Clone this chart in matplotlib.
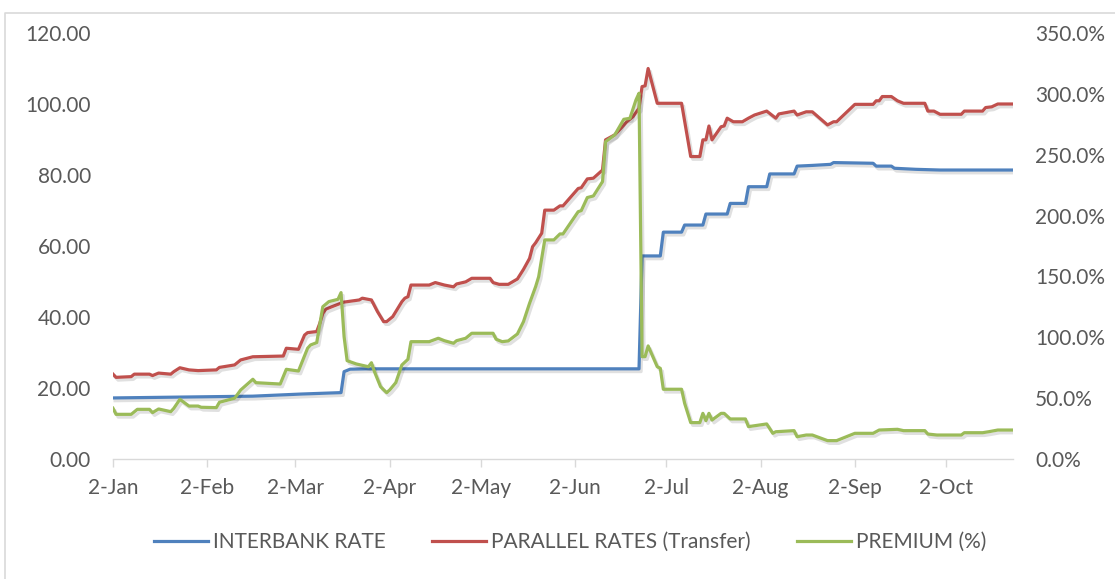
import matplotlib
import numpy as np

matplotlib.use("Agg")
import matplotlib.pyplot as plt  # noqa: E402
import matplotlib.dates as mdates  # noqa: E402
import matplotlib.patheffects as pe  # noqa: E402
from matplotlib.lines import Line2D  # noqa: E402
from matplotlib.ticker import FuncFormatter  # noqa: E402

START = np.datetime64("2016-01-02")
END_DAY = 296

# days counted from 2-Jan-2016
INTERBANK_DAY = [0, 46, 62, 75, 76, 78, 84, 173, 174, 180, 181, 187, 188, 194, 195, 202, 203,
                 208, 209, 215, 216, 224, 225, 230, 236, 237, 250, 251, 256, 257, 264, 272, 296]
INTERBANK_RATE = [17.2, 17.7, 18.3, 18.7, 24.6, 25.3, 25.4, 25.4, 57.2, 57.2, 63.9, 63.9, 65.9, 65.9, 69.0, 69.0, 72.0,
                  72.0, 76.7, 76.7, 80.3, 80.3, 82.5, 82.7, 83.0, 83.5, 83.3, 82.5, 82.5, 81.9, 81.6, 81.4, 81.4]

PARALLEL_DAY = [0, 1, 6, 7, 12, 13, 15, 19, 20, 22, 25, 28, 34, 35, 40, 42, 46, 56, 57, 61, 63, 64, 67, 68,
                69, 70, 72, 75, 76, 81, 82, 85, 87, 89, 90, 92, 95, 96, 97, 98, 104, 106, 109, 112, 113, 116,
                118, 124, 125, 127, 130, 133, 135, 137, 138, 139, 141, 142, 145, 147, 148, 153, 154, 156, 158,
                161, 162, 165, 167, 169, 171, 173, 174, 175, 176, 179, 187, 190, 193, 194, 195, 196, 197, 200,
                201, 202, 204, 207, 209, 211, 215, 218, 219, 224, 225, 228, 230, 235, 237, 238, 244, 250, 251,
                252, 253, 256, 258, 260, 267, 268, 270, 272, 279, 280, 286, 287, 289, 291, 296]
PARALLEL_RATE = [23.9, 23.0, 23.2, 23.9, 23.9, 23.5, 24.2, 23.9, 24.6, 25.7, 25.1, 24.9, 25.1, 25.8, 26.5, 27.9,
                 28.8, 29.0, 31.2, 30.9, 34.9, 35.6, 35.9, 38.2, 41.0, 42.2, 42.9, 43.9, 44.2, 44.8, 45.3, 44.8,
                 41.5, 38.7, 38.7, 40.1, 44.3, 45.3, 45.7, 49.0, 49.0, 49.7, 49.0, 48.5, 49.3, 49.9, 50.9, 50.9,
                 49.7, 49.2, 49.2, 50.7, 53.4, 56.5, 59.8, 60.9, 63.6, 70.1, 70.1, 71.3, 71.3, 76.2, 76.4, 78.9,
                 79.1, 81.4, 89.9, 91.3, 93.1, 95.0, 96.4, 98.8, 104.9, 105.1, 110.0, 100.2, 100.2, 85.2, 85.2,
                 89.9, 89.9, 93.8, 89.9, 93.6, 93.8, 96.0, 95.0, 95.0, 96.0, 96.9, 98.0, 96.0, 97.2, 98.0, 96.9,
                 97.8, 97.8, 94.1, 95.0, 95.0, 99.9, 99.9, 100.9, 100.9, 102.1, 102.1, 100.9, 100.2, 100.2, 98.0,
                 98.0, 97.1, 97.1, 98.0, 98.0, 99.0, 99.2, 100.0, 100.0]

PREMIUM_DAY = [0, 1, 6, 8, 12, 13, 15, 19, 20, 22, 25, 28, 29, 34, 35, 40, 42, 46, 47, 55, 57, 61, 64, 65,
               67, 69, 71, 74, 75, 76, 77, 80, 84, 85, 86, 88, 90, 91, 93, 95, 97, 98, 104, 107, 109, 112, 113,
               116, 118, 125, 126, 128, 130, 133, 135, 137, 139, 140, 142, 145, 147, 148, 153, 154, 156, 158,
               161, 162, 165, 168, 170, 172, 173, 174, 175, 176, 179, 180, 181, 187, 188, 190, 193, 194, 195,
               196, 197, 200, 201, 203, 208, 209, 215, 217, 218, 224, 225, 228, 230, 235, 238, 244, 250, 252,
               258, 260, 267, 268, 271, 279, 280, 286, 288, 291, 296]
PREMIUM_PCT = [41.7, 36.7, 36.7, 40.8, 40.8, 38.1, 41.1, 38.9, 41.6, 49.0, 43.5, 43.5, 42.5, 42.2, 46.6, 49.9,
               56.7, 65.5, 62.7, 61.6, 73.7, 72.3, 91.0, 93.7, 95.6, 125.1, 129.3, 131.2, 136.7, 100.5, 80.8,
               78.1, 75.8, 79.1, 71.7, 59.4, 54.5, 56.7, 62.7, 77.2, 81.9, 96.4, 96.4, 99.2, 97.2, 95.1, 97.2,
               99.2, 103.3, 103.3, 98.4, 96.4, 97.0, 102.7, 112.8, 127.9, 141.6, 149.8, 180.0, 180.0, 184.9,
               184.9, 203.2, 204.0, 214.8, 216.1, 227.9, 260.7, 266.2, 279.1, 279.9, 295.0, 300.5, 84.1, 84.1,
               92.9, 75.8, 74.5, 57.3, 57.3, 45.8, 29.9, 29.9, 37.5, 31.5, 37.5, 32.0, 37.5, 37.5, 32.9, 32.9,
               26.6, 28.8, 21.1, 22.4, 23.3, 18.3, 19.7, 19.7, 15.1, 15.1, 21.1, 21.1, 23.8, 24.4, 23.3, 23.3,
               20.5, 19.7, 19.7, 21.6, 21.6, 22.4, 23.8, 23.8]

SERIES_NAMES = ["INTERBANK RATE", "PARALLEL RATES (Transfer)", "PREMIUM (%)"]
COLORS = ["#4F81BD", "#C0504D", "#9BBB59"]
TEXT_GREY = "#595959"
AXIS_GREY = "#D9D9D9"

plt.rcParams["font.family"] = ["Lato", "DejaVu Sans"]


def to_dates(days):
    return START + np.asarray(days).astype("timedelta64[D]")


def day_label(value, _pos):
    d = mdates.num2date(value)
    return f"{d.day}-{d.strftime('%b')}"


fig = plt.figure(figsize=(11.15, 5.79), dpi=100)
ax = fig.add_axes([113 / 1115, 1 - 459 / 579, 900 / 1115, 426 / 579])
ax2 = ax.twinx()

shadow = [pe.SimpleLineShadow(offset=(1.5, -2.0), shadow_color="black", alpha=0.12, rho=1.0), pe.Normal()]

ax.plot(to_dates(INTERBANK_DAY), INTERBANK_RATE, color=COLORS[0], lw=2.3, solid_joinstyle="round",
        path_effects=shadow)
ax.plot(to_dates(PARALLEL_DAY), PARALLEL_RATE, color=COLORS[1], lw=2.3, solid_joinstyle="round",
        path_effects=shadow)
ax2.plot(to_dates(PREMIUM_DAY), np.asarray(PREMIUM_PCT) / 100, color=COLORS[2], lw=2.3,
         solid_joinstyle="round", path_effects=shadow)

ax.set_xlim(START, START + np.timedelta64(END_DAY, "D"))
ax.set_ylim(0, 120)
ax2.set_ylim(0, 3.5)
ax.set_yticks(np.arange(0, 121, 20))
ax2.set_yticks(np.arange(0, 3.51, 0.5))
ax.yaxis.set_major_formatter(FuncFormatter(lambda v, _p: f"{v:.2f}"))
ax2.yaxis.set_major_formatter(FuncFormatter(lambda v, _p: f"{v * 100:.1f}%"))

ax.xaxis.set_major_locator(mdates.MonthLocator(bymonthday=2))
ax.xaxis.set_major_formatter(FuncFormatter(day_label))

for a in (ax, ax2):
    for side in ("top", "left", "right"):
        a.spines[side].set_visible(False)
    a.spines["bottom"].set_color(AXIS_GREY)
    a.spines["bottom"].set_linewidth(1.0)
    a.tick_params(axis="y", length=0, labelsize=15, labelcolor=TEXT_GREY, pad=16)
ax2.spines["bottom"].set_visible(False)
ax.tick_params(axis="x", length=6, width=1.0, color=AXIS_GREY, labelsize=15, labelcolor=TEXT_GREY, pad=8)

handles = [Line2D([], [], color=c, lw=2.3) for c in COLORS]
fig.legend(handles, SERIES_NAMES, loc="center", bbox_to_anchor=(570 / 1115, 1 - 542 / 579), ncol=3,
           frameon=False, fontsize=15, labelcolor=TEXT_GREY, handlelength=2.6, handletextpad=0.25,
           columnspacing=2.2)

# chart area border (cropped at the right and bottom in the original)
fig.add_artist(Line2D([5 / 1115, 5 / 1115, 1.0], [0.0, 1 - 13 / 579, 1 - 13 / 579],
                      transform=fig.transFigure, color=AXIS_GREY, lw=1.2))

fig.savefig("out.png", dpi=100)
plt.close(fig)
